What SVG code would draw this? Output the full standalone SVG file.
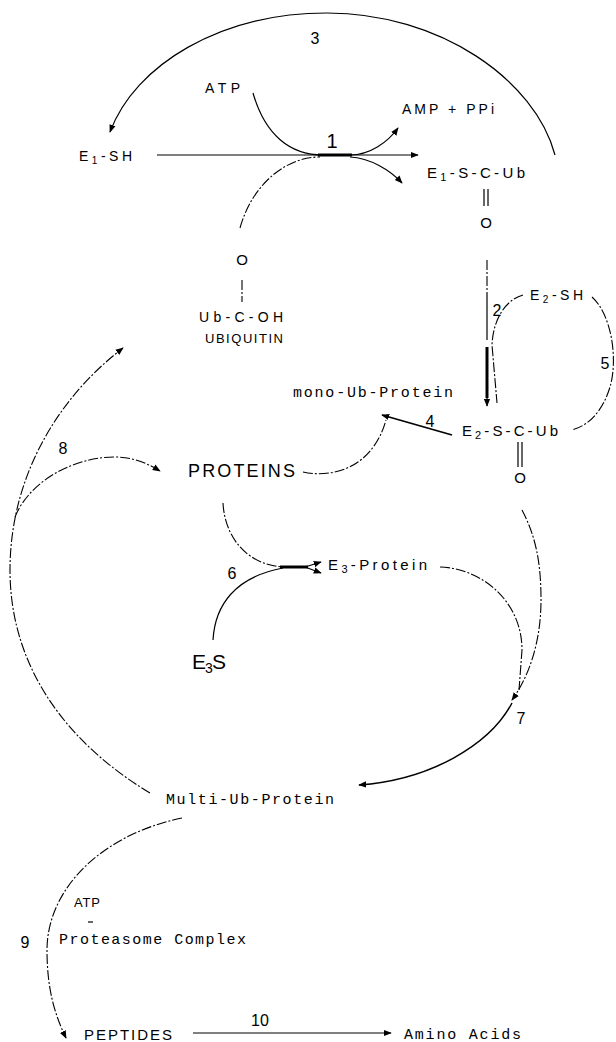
<svg xmlns="http://www.w3.org/2000/svg" width="616" height="1042" viewBox="0 0 616 1042">
<style>
.l{fill:none;stroke:#000;stroke-width:1.2}
.d{fill:none;stroke:#000;stroke-width:1.1;stroke-dasharray:10 2 2 2}
.k{fill:none;stroke:#000;stroke-width:3}
.t{font-family:"Liberation Sans",Arial,sans-serif;font-size:15px;fill:#000}
.m{font-family:"Liberation Mono","Courier New",monospace;font-size:15px;fill:#000}
.n{font-family:"Liberation Sans",Arial,sans-serif;font-size:16px;fill:#000;text-anchor:middle}
.big{font-family:"Liberation Sans",Arial,sans-serif;font-size:18px;fill:#000}
</style>
<defs>
<marker id="ah" viewBox="0 0 10 10" refX="9" refY="5" markerWidth="8" markerHeight="8" orient="auto" markerUnits="userSpaceOnUse"><path d="M0,1 L10,5 L0,9 z" fill="#000"/></marker>
</defs>

<g id="connectors">
  <!-- 3 -->
  <path class="l" d="M555,155 C535,80 440,13 327,13 C220,13 135,65 110,132" marker-end="url(#ah)"/>
  <!-- 1 -->
  <path class="l" d="M253,93 C265,135 290,155 323,155"/>
  <path class="l" d="M157,155 L418,155" marker-end="url(#ah)"/>
  <path class="k" d="M318,155 L352,155"/>
  <path class="l" d="M350,155 C370,155 388,142 398,128" marker-end="url(#ah)"/>
  <path class="l" d="M350,157 C370,158 390,170 402,183" marker-end="url(#ah)"/>
  <path class="d" d="M240,228 C252,185 285,157 320,157"/>
  <!-- ubiquitin bond -->
  <path class="d" d="M242,280 L242,302"/>
  <!-- 2 -->
  <path class="d" d="M487,260 L487,293"/>
  <path class="l" d="M487,293 L487,340"/>
  <path class="k" d="M487,347 L487,398"/>
  <path class="l" d="M487,398 L487,406" marker-end="url(#ah)"/>
  <path class="d" d="M523,295 C505,300 493,320 492,345 L497,403"/>
  <!-- 5 -->
  <path class="d" d="M592,297 C612,315 618,360 610,387 C603,410 590,425 572,430"/>
  <!-- 4 -->
  <path class="l" style="stroke-width:1.8" d="M452,435 L382,415" marker-end="url(#ah)"/>
  <path class="d" d="M303,472 C330,478 372,470 386,420"/>
  <!-- 8 -->
  <path class="d" d="M15,517 C30,480 75,457 115,457 C135,457 150,465 160,471" marker-end="url(#ah)"/>
  <!-- recycling arc -->
  <path class="d" d="M150,793 C70,745 10,670 10,570 C10,480 55,400 123,348" marker-end="url(#ah)"/>
  <!-- 6 -->
  <path class="d" d="M223,503 C225,540 250,567 287,567"/>
  <path class="l" d="M213,640 C215,605 235,577 283,568"/>
  <path class="k" d="M280,567 L308,567"/>
  <path class="l" d="M305,567 L321,562" marker-end="url(#ah)"/>
  <path class="l" d="M305,567 L321,573" marker-end="url(#ah)"/>
  <!-- 7 -->
  <path class="d" d="M522,510 C535,535 541,560 541,600 C541,640 530,675 512,700" marker-end="url(#ah)"/>
  <path class="d" d="M440,567 C480,568 522,600 522,650 L519,690"/>
  <path class="l" style="stroke-width:1.5" d="M512,703 C490,745 430,780 359,785" marker-end="url(#ah)"/>
  <!-- 9 -->
  <path class="d" d="M182,818 C100,835 47,890 47,950 C47,990 55,1015 66,1038" marker-end="url(#ah)"/>
  <path class="l" d="M88,922 L93,922"/>
  <!-- 10 -->
  <path class="l" d="M193,1033 L391,1033" marker-end="url(#ah)"/>
</g>

<g id="labels">
  <text class="n" x="315" y="44">3</text>
  <text class="n" x="332" y="148" style="font-size:20px">1</text>
  <text class="n" x="497" y="316">2</text>
  <text class="n" x="430" y="427">4</text>
  <text class="n" x="605" y="369">5</text>
  <text class="n" x="232" y="579">6</text>
  <text class="n" x="521" y="724">7</text>
  <text class="n" x="63" y="454">8</text>
  <text class="n" x="25" y="948">9</text>
  <text class="n" x="260" y="1026">10</text>
</g>

<g id="atp1"><text class="t" x="205" y="93" style="font-size:14px" textLength="35" lengthAdjust="spacing">ATP</text></g>
<g id="amp"><text class="t" x="402" y="114" style="font-size:14px" textLength="92" lengthAdjust="spacing">AMP + PPi</text></g>
<g id="e1sh"><text class="t" x="79" y="161" style="font-size:14px" textLength="53" lengthAdjust="spacing">E<tspan font-size="10" dy="3">1</tspan><tspan dy="-3">-SH</tspan></text></g>
<g id="e1sub">
  <text class="t" x="427" y="178" textLength="98" lengthAdjust="spacing">E<tspan font-size="11" dy="3">1</tspan><tspan dy="-3">-S-C-Ub</tspan></text>
  <path class="l" d="M484,189 L484,206 M488,189 L488,206"/>
  <text class="n" x="486" y="228" style="font-size:15px">O</text>
</g>
<g id="ubiquitin">
  <text class="n" x="242" y="265" style="font-size:15px">O</text>
  <text class="t" x="199" y="322" style="font-size:14px" textLength="84" lengthAdjust="spacing">Ub-C-OH</text>
  <text class="t" x="205" y="343" style="font-size:13px" textLength="78" lengthAdjust="spacing">UBIQUITIN</text>
</g>
<g id="e2sh"><text class="t" x="530" y="300" style="font-size:14px" textLength="53" lengthAdjust="spacing">E<tspan font-size="10" dy="3">2</tspan><tspan dy="-3">-SH</tspan></text></g>
<g id="mono"><text class="m" x="293" y="397" textLength="160" lengthAdjust="spacing">mono-Ub-Protein</text></g>
<g id="e2sub">
  <text class="t" x="462" y="436" textLength="96" lengthAdjust="spacing">E<tspan font-size="11" dy="3">2</tspan><tspan dy="-3">-S-C-Ub</tspan></text>
  <path class="l" d="M518,442 L518,467 M522,442 L522,467"/>
  <text class="n" x="520" y="483" style="font-size:15px">O</text>
</g>
<g id="proteins"><text class="big" x="188" y="477" textLength="107" lengthAdjust="spacing">PROTEINS</text></g>
<g id="e3protein"><text class="t" x="328" y="570" textLength="99" lengthAdjust="spacing">E<tspan font-size="11" dy="3">3</tspan><tspan dy="-3">-Protein</tspan></text></g>
<g id="e3s"><text class="big" x="192" y="669" style="font-size:21px" textLength="34" lengthAdjust="spacing">E<tspan font-size="14" dy="4">3</tspan><tspan dy="-4">S</tspan></text></g>
<g id="multi"><text class="m" x="166" y="804" textLength="168" lengthAdjust="spacing">Multi-Ub-Protein</text></g>
<g id="atp2"><text class="t" x="74" y="907" textLength="26" lengthAdjust="spacing" style="font-size:13px">ATP</text></g>
<g id="proteasome"><text class="m" x="59" y="944" textLength="187" lengthAdjust="spacing">Proteasome Complex</text></g>
<g id="peptides"><text class="big" x="84" y="1040" style="font-size:15px" textLength="88" lengthAdjust="spacing">PEPTIDES</text></g>
<g id="amino"><text class="m" x="404" y="1039" textLength="117" lengthAdjust="spacing">Amino Acids</text></g>
</svg>
